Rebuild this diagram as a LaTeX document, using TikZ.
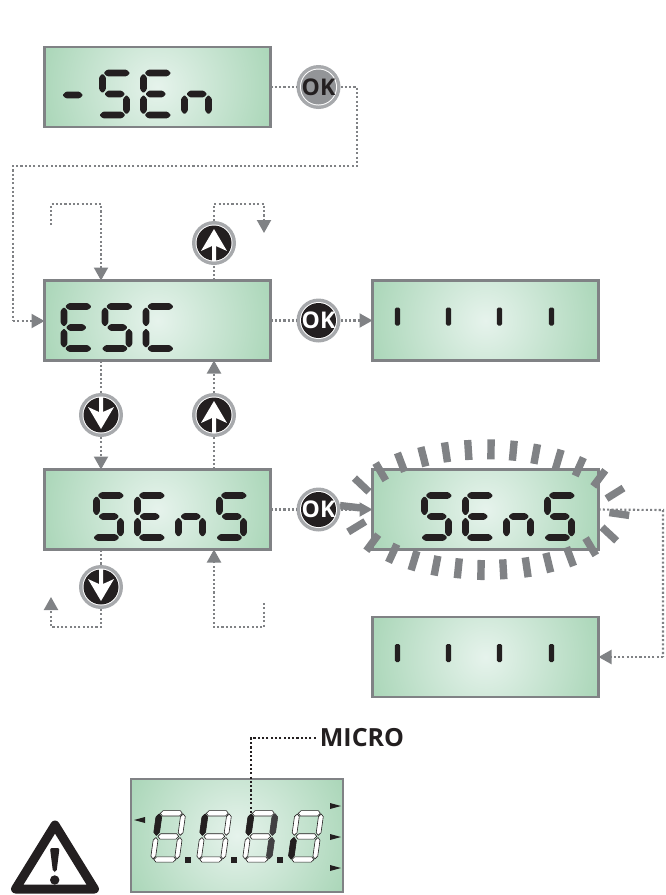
\documentclass[tikz,border=0pt]{standalone}
\usepackage{fontspec}
\setmainfont{Open Sans}
\usetikzlibrary{arrows.meta,positioning,calc}

\definecolor{lcdgreen}{HTML}{AAD6B8}
\definecolor{lcdcenter}{HTML}{E6F3EC}
\definecolor{lcdframe}{HTML}{808285}
\definecolor{lcdink}{HTML}{231F20}
\definecolor{lcddark}{HTML}{414042}
\definecolor{btnring}{HTML}{A7A9AC}
\definecolor{btnidle}{HTML}{939598}

% segments of one digit, 30 wide and 48 high, \segt is half their thickness
\newcommand{\segt}{3.3}
\newcommand{\seghoriz}[3]{(#2,#1)--(#2+\segt,#1-\segt)--(#3-\segt,#1-\segt)--(#3,#1)--(#3-\segt,#1+\segt)--(#2+\segt,#1+\segt)--cycle}
\newcommand{\segvert}[3]{(#1,#2)--(#1+\segt,#2+\segt)--(#1+\segt,#3-\segt)--(#1,#3)--(#1-\segt,#3-\segt)--(#1-\segt,#2+\segt)--cycle}
\newcommand{\sega}{\seghoriz{3}{4.2}{30.5}}
\newcommand{\segg}{\seghoriz{24}{4.8}{25.6}}
\newcommand{\segm}{\seghoriz{25}{4}{24.5}}
\newcommand{\segdl}{\seghoriz{45}{0}{25.8}}
\newcommand{\segdr}{\seghoriz{45}{4.2}{30.5}}
\newcommand{\segf}{\segvert{3}{3.6}{23}}
\newcommand{\segb}{\segvert{27}{3.6}{23}}
\newcommand{\sege}{\segvert{3}{25}{44.4}}
\newcommand{\segc}{\segvert{27}{25}{44.4}}
% closed segments of the lower display
\newcommand{\segat}{\seghoriz{3}{4}{26}}
\newcommand{\segdt}{\seghoriz{45}{4}{26}}
\newcommand{\glyphS}{a,f,g,c,dl}
\newcommand{\glyphE}{a,f,g,e,dr}
\newcommand{\glyphC}{a,f,e,dr}
\newcommand{\glyphn}{g,e,c}
\newcommand{\glyphm}{m}

% word on a display: node, left offset, letters
\newcommand{\lcdword}[3]{%
    \foreach \g [count=\i from 0] in {#3} {
        \expandafter\let\expandafter\curglyph\csname glyph\g\endcsname
        \begin{scope}[shift={($(#1.north west)+(#2+41*\i,23)$)}]
            \foreach \s in \curglyph {\fill[segment] \csname seg\s\endcsname;}
        \end{scope}
    }
}
% the four bars of an empty display
\newcommand{\lcdbars}[1]{%
    \foreach \i in {25,76,127,179} {
        \fill[lcdink,rounded corners=1.5pt] ($(#1.north west)+(\i-2.7,27)$) rectangle ++(5.4,18);
    }
}
% #1 is 1 for an arrow pointing up, -1 for one pointing down
\newcommand{\whitearrow}[1]{%
    \fill[white,shift={(path picture bounding box.center)}]
        (0,-14*#1)--(13,8*#1)--(2,3*#1)--(2,18*#1)--(-2,18*#1)--(-2,3*#1)--(-13,8*#1)--cycle;
}

\begin{document}
\begin{tikzpicture}[
        x=1pt, y=-1pt,
        lcd/.style={
            draw=lcdframe, line width=2.5pt, fill=lcdgreen, rectangle,
            minimum width=226pt, minimum height=80pt, inner sep=0pt, outer sep=0pt,
            text opacity=0, font=\bfseries\fontsize{44}{44}\selectfont,
            path picture={\shade[inner color=lcdcenter, outer color=lcdgreen]
                (path picture bounding box.center) circle (120pt);}
        },
        btn/.style n args={2}{
            circle, minimum size=44pt, inner sep=0pt, outer sep=0pt, fill=btnring, text=white,
            font=\bfseries\fontsize{23}{23}\selectfont,
            path picture={
                \fill[white] (path picture bounding box.center) circle (18.5pt);
                \fill[#1] (path picture bounding box.center) circle (17.5pt);
                #2
            }
        },
        okbtn/.style={btn={lcdink}{}},
        upbtn/.style={btn={lcdink}{\whitearrow{1}}},
        downbtn/.style={btn={lcdink}{\whitearrow{-1}}},
        segment/.style={fill=lcdink, rounded corners=1pt},
        microdigit/.style={yscale=1.1, xslant=0.154, line width=0.6pt},
        flow/.style={draw=lcdframe, line width=2.1pt, dash pattern=on 2.1pt off 2.2pt},
        flowarrow/.style={flow, -{Triangle[length=13pt,width=14pt]}},
        tick/.style={fill=lcdframe}
    ]
    \useasboundingbox (0,0) rectangle (665,895);

    % Displays
    \node[lcd] (lcdsen) at (157.5,87) {-SEn};
    \node[lcd, below=153.5pt of lcdsen] (lcdesc) {ESC};
    \node[lcd, below=109pt of lcdesc] (lcdsens) {SEnS};
    \node[lcd, right=102pt of lcdesc] (lcdbars) {};
    \node[lcd, right=102pt of lcdsens] (lcdflash) {SEnS};
    \node[lcd, below=67.5pt of lcdflash] (lcdlower) {};
    \node[lcd, minimum width=212pt, minimum height=113pt] (lcdmicro) at (237,835.5) {};

    \lcdword{lcdsen}{14}{m,S,E,n}
    \lcdword{lcdesc}{16.5}{E,S,C}
    \lcdword{lcdsens}{49}{S,E,n,S}
    \lcdword{lcdflash}{49}{S,E,n,S}
    \lcdbars{lcdbars}
    \lcdbars{lcdlower}

    % Flashing around the display
    \foreach \tx/\ty in {380.7/471.7,401/462.3,423.3/456.7,446/452.3,468.3/450,491/449.3,
            513.3/450.7,535.7/454,558.3/459.3,579.3/466.7,599.3/478.3,615/493.3,619.3/514,
            609.3/534,590.7/546.7,570/556.7,548.3/562.7,526.7/567.3,503.3/569.3,481/570,
            458.3/568.3,436/565.7,414/560.7,392.7/553.3,372.3/542.7,356.7/526.7,350/506.7,361.7/485} {
        \pgfmathsetmacro{\tickangle}{atan2(-(\ty-510)*4.75,\tx-487)}
        \fill[tick,shift={(\tx,\ty)},rotate=\tickangle] (-10,-3.7) rectangle (10,3.7);
    }

    % Buttons
    \node[btn={btnidle}{}, text=lcdink, right=26pt of lcdsen] (oksen) {OK};
    \node[okbtn, right=26pt of lcdesc] (okesc) {OK};
    \node[okbtn, right=26pt of lcdsens] (oksens) {OK};
    \node[upbtn] (btnupesc) at (214,243) {};
    \node[downbtn] (btndownesc) at (101,415) {};
    \node[upbtn] (btnupsens) at (214,415) {};
    \node[downbtn] (btndownsens) at (101,587) {};

    % Free ends of the loops
    \coordinate (senturn) at (357,166);
    \coordinate (escturn) at (13,321);
    \coordinate (loopstart) at (51,225);
    \coordinate (loopin) at (101,204);
    \coordinate (upturn) at (264,204);
    \coordinate (upend) at (264,233);
    \coordinate (downturn) at (51,627);
    \coordinate (downend) at (51,597);
    \coordinate (backstart) at (264,603);
    \coordinate (backturn) at (214,627);
    \coordinate (flashturn) at (663,510);
    \coordinate (lowerturn) at (663,657);

    % Flow from the first display
    \draw[flow] (lcdsen) -- (oksen);
    \draw[flow] (oksen) -| (senturn) -- (senturn -| escturn) -- (escturn);
    \draw[flowarrow] (escturn) -- (lcdesc.west |- escturn);

    % Flow around the first menu entry
    \draw[flowarrow] (loopstart) |- (loopin) -- (lcdesc.north -| loopin);
    \draw[flow] (lcdesc.north -| btnupesc) -- (btnupesc);
    \draw[flowarrow] (btnupesc) |- (upturn) -- (upend);
    \draw[flow] (lcdesc) -- (okesc);
    \draw[flowarrow] (okesc) -- (lcdbars);
    \draw[flow] (lcdesc.south -| btndownesc) -- (btndownesc);
    \draw[flowarrow] (btndownesc) -- (lcdsens.north -| btndownesc);
    \draw[flow] (lcdsens.north -| btnupsens) -- (btnupsens);
    \draw[flowarrow] (btnupsens) -- (lcdesc.south -| btnupsens);

    % Flow around the second menu entry
    \draw[flow] (lcdsens) -- (oksens);
    \draw[flowarrow] (oksens) -- (lcdflash);
    \draw[flow] (lcdsens.south -| btndownsens) -- (btndownsens);
    \draw[flowarrow] (btndownsens) |- (downturn) -- (downend);
    \draw[flowarrow] (backstart) |- (backturn) -- (lcdsens.south -| backturn);
    \draw[flow] (lcdflash.east) -- (flashturn) -- (lowerturn);
    \draw[flowarrow] (lowerturn) -- (lcdlower.east);

    % Segments of the lower display
    \renewcommand{\segt}{2.4}
    \foreach \i in {0,1,2,3} {
        \begin{scope}[shift={(156.8+46*\i,810)}, microdigit]
            \foreach \s in {at,b,c,dt,e,f,g} {
                \filldraw[draw=lcdink, fill=white] \csname seg\s\endcsname;
            }
        \end{scope}
    }
    \renewcommand{\segt}{2.9}
    \foreach \i/\litseg/\litcolor in {0/f/lcdink,1/f/lcdink,2/f/lcdink,2/b/lcddark,2/c/lcddark,3/e/lcdink} {
        \begin{scope}[shift={(156.8+46*\i,810)}, microdigit]
            \filldraw[draw=\litcolor, fill=\litcolor] \csname seg\litseg\endcsname;
        \end{scope}
    }
    \foreach \i in {184.5,230.5,276.5} {
        \fill[lcdink] (\i,857) rectangle ++(6,6);
    }
    \fill[lcdink] (134,820) -- (145,817) -- (145,823) -- cycle;
    \foreach \i in {806,837,868} {
        \fill[lcdink] (341,\i) -- (330,\i-3) -- (330,\i+3) -- cycle;
    }

    % Label of the lower display
    \node[font=\bfseries\fontsize{25}{25}\selectfont, text=lcdink, inner sep=0pt] (microlabel) at (362,738) {MICRO};
    \coordinate (microend) at (251,813);
    \draw[flow, draw=lcdink] ([xshift=-4pt]microlabel.west) -| (microend);

    % Warning sign
    \draw[lcdink, fill=white, line width=9pt, line join=round] (55,825) -- (94.5,889) -- (15.5,889) -- cycle;
    \fill[lcdink, rounded corners=2pt] (50,848) -- (59.5,848) -- (56.5,872) -- (53,872) -- cycle;
    \fill[lcdink] (54.7,880) circle (4.7pt);
\end{tikzpicture}
\end{document}
